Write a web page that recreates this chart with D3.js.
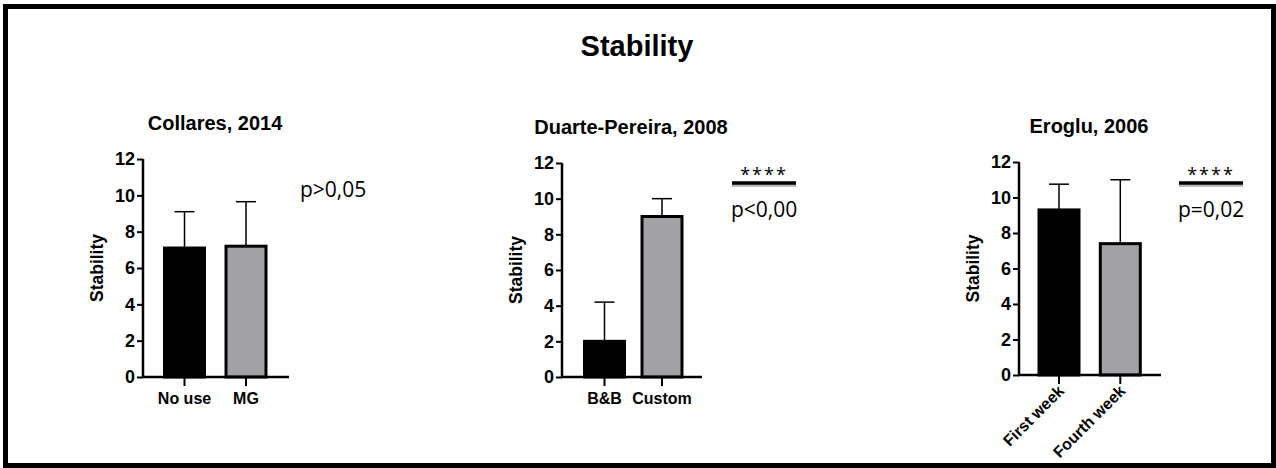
<!DOCTYPE html>
<html>
<head>
<meta charset="utf-8">
<script src="https://cdn.jsdelivr.net/npm/d3@7"></script>
<style>
  body { margin: 0; background: #fff; }
  svg { display: block; }
</style>
</head>
<body>
<svg width="1276" height="468"></svg>
<script>
const svg = d3.select('svg');
const width = +svg.attr('width');
const height = +svg.attr('height');
const boldFont = "'Liberation Sans', Arial, sans-serif";
const plainFont = "'Open Sans', sans-serif";

// data
const panelTitles = ['Collares, 2014', 'Duarte-Pereira, 2008', 'Eroglu, 2006'];
const groupNames = [['No use', 'MG'], ['B&B', 'Custom'], ['First week', 'Fourth week']];
const means = [[7.1, 7.2], [2.0, 9.0], [9.3, 7.4]];
const sds = [[2.0, 2.45], [2.2, 1.0], [1.45, 3.6]];
const pLabels = ['p>0,05', 'p<0,00', 'p=0,02'];
const showStars = [false, true, true];
const yTicks = [0, 2, 4, 6, 8, 10, 12];
const barFills = ['#000000', '#a2a2a6'];

// panel frames (axis origin, plot size)
const panels = [
  {x: 143, top: 159, bottom: 377, w: 146, step: 61.5, first: 41.5, titleX: 215, titleY: 130, pX: 300, pY: 197},
  {x: 562, top: 163, bottom: 377, w: 140, step: 57.5, first: 42.5, titleX: 631, titleY: 134, pX: 731, pY: 217},
  {x: 1019, top: 162, bottom: 375, w: 142, step: 61.3, first: 40, titleX: 1089, titleY: 133, pX: 1178, pY: 217}
];

// outer frame
svg.append('rect')
  .attr('x', 5.5).attr('y', 6.5)
  .attr('width', 1268).attr('height', 459)
  .attr('fill', 'none')
  .attr('stroke', '#000')
  .attr('stroke-width', 5);

svg.append('text')
  .attr('x', 637).attr('y', 56)
  .attr('text-anchor', 'middle')
  .attr('font-family', boldFont)
  .attr('font-weight', 'bold')
  .attr('font-size', '29px')
  .text('Stability');

panels.forEach((p, i) => {
  const g = svg.append('g').attr('transform', `translate(${p.x},0)`);

  const yScale = d3.scaleLinear()
    .domain([0, 12])
    .range([p.bottom, p.top]);

  const xPos = k => p.first + k * p.step;
  const barW = 40;

  const data = groupNames[i].map((name, k) => ({name, mean: means[i][k], sd: sds[i][k], k}));

  // error bars (upper only)
  g.selectAll('line.err').data(data).enter().append('line')
    .attr('class', 'err')
    .attr('x1', d => xPos(d.k)).attr('x2', d => xPos(d.k))
    .attr('y1', d => yScale(d.mean)).attr('y2', d => yScale(d.mean + d.sd))
    .attr('stroke', '#000').attr('stroke-width', 1.5);
  g.selectAll('line.cap').data(data).enter().append('line')
    .attr('class', 'cap')
    .attr('x1', d => xPos(d.k) - 10).attr('x2', d => xPos(d.k) + 10)
    .attr('y1', d => yScale(d.mean + d.sd)).attr('y2', d => yScale(d.mean + d.sd))
    .attr('stroke', '#000').attr('stroke-width', 1.5);

  g.selectAll('rect.bar').data(data).enter().append('rect')
    .attr('class', 'bar')
    .attr('x', d => xPos(d.k) - barW / 2)
    .attr('y', d => yScale(d.mean))
    .attr('width', barW)
    .attr('height', d => p.bottom - yScale(d.mean))
    .attr('fill', d => barFills[d.k])
    .attr('stroke', '#000')
    .attr('stroke-width', 3);

  // y axis
  const yAxis = g.append('g')
    .call(d3.axisLeft(yScale).tickValues(yTicks).tickSize(6).tickPadding(2));
  yAxis.select('.domain').attr('stroke-width', 2.5).attr('d', `M0,${p.top}V${p.bottom}`);
  yAxis.selectAll('.tick line').attr('stroke-width', 2);
  yAxis.selectAll('.tick text')
    .attr('font-family', boldFont)
    .attr('font-weight', 'bold')
    .attr('font-size', '18px')
    .attr('fill', '#000');

  // x axis
  const xAxis = g.append('g').attr('transform', `translate(0,${p.bottom})`);
  xAxis.append('line')
    .attr('x1', -1).attr('x2', p.w)
    .attr('stroke', '#000').attr('stroke-width', 2.5);
  xAxis.selectAll('line.xt').data(data).enter().append('line')
    .attr('class', 'xt')
    .attr('x1', d => xPos(d.k)).attr('x2', d => xPos(d.k))
    .attr('y1', 0).attr('y2', 9)
    .attr('stroke', '#000').attr('stroke-width', 2);

  const xl = xAxis.selectAll('text.xl').data(data).enter().append('text')
    .attr('class', 'xl')
    .attr('font-family', boldFont)
    .attr('font-weight', 'bold')
    .attr('font-size', '16px')
    .text(d => d.name);
  if (i === 2) {
    xl.attr('text-anchor', 'end')
      .attr('transform', d => `translate(${xPos(d.k) + 6},${17}) rotate(-45)`);
  } else {
    xl.attr('text-anchor', 'middle')
      .attr('x', d => xPos(d.k))
      .attr('y', 27);
  }

  // y axis label
  g.append('text')
    .attr('transform', `translate(${-40},${(p.top + p.bottom) / 2}) rotate(-90)`)
    .attr('text-anchor', 'middle')
    .attr('font-family', boldFont)
    .attr('font-weight', 'bold')
    .attr('font-size', '17.5px')
    .text('Stability');

  // panel title
  svg.append('text')
    .attr('x', p.titleX).attr('y', p.titleY)
    .attr('text-anchor', 'middle')
    .attr('font-family', boldFont)
    .attr('font-weight', 'bold')
    .attr('font-size', '20px')
    .text(panelTitles[i]);

  // significance
  if (showStars[i]) {
    const lx = p.pX + 1, lw = 64, ly = p.pY - 34;
    svg.append('line')
      .attr('x1', lx).attr('x2', lx + lw)
      .attr('y1', ly + 2).attr('y2', ly + 2)
      .attr('stroke', '#bbb').attr('stroke-width', 4);
    svg.append('line')
      .attr('x1', lx).attr('x2', lx + lw)
      .attr('y1', ly).attr('y2', ly)
      .attr('stroke', '#000').attr('stroke-width', 3.5);
    svg.append('text')
      .attr('x', lx + lw / 2).attr('y', ly - 2)
      .attr('text-anchor', 'middle')
      .attr('font-family', plainFont)
      .attr('font-size', '18px')
      .attr('letter-spacing', '2px')
      .text('****');
  }
  svg.append('text')
    .attr('x', p.pX).attr('y', p.pY)
    .attr('font-family', plainFont)
    .attr('font-size', '21px')
    .text(pLabels[i]);
});
</script>
</body>
</html>
